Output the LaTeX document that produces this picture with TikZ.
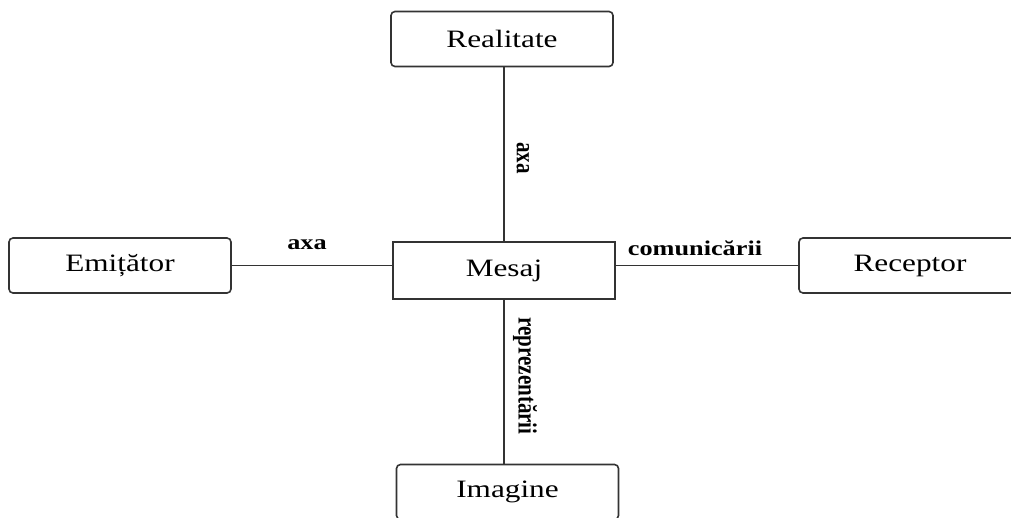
\documentclass[tikz,border=0pt]{standalone}
\usepackage{fontspec}
\setmainfont{Liberation Serif}
\usepackage{graphicx}
% wide lettering used throughout the figure
\newcommand\widetext[1]{\scalebox{1.25}[1]{#1}}
\newcommand\tallrot[1]{\scalebox{1}[1.25]{#1}}
\definecolor{linegray}{HTML}{333333}
\begin{document}
\begin{tikzpicture}[x=1pt,y=-1pt,
  box/.style={draw=linegray, line width=1.6pt, minimum width=222pt, minimum height=55pt,
    inner sep=0pt, font=\fontsize{25}{30}\selectfont},
  roundbox/.style={box, rounded corners=4pt},
  link/.style={draw=linegray, line width=1.6pt},
  axislabel/.style={font=\fontsize{21}{25}\bfseries, inner sep=0pt}]
\useasboundingbox (0,0) rectangle (1011,517);
% the four poles and the message in the middle
\node[roundbox] (real) at (502,39) {\widetext{Realitate}};
\node[roundbox] (emit) at (120,265.5) {\widetext{Emițător}};
\node[box, minimum height=57pt] (mes) at (504,270.5) {\widetext{Mesaj}};
\node[roundbox] (rec) at (910,265.5) {\widetext{Receptor}};
\node[roundbox] (img) at (507.5,492) {\widetext{Imagine}};
% axes
\draw[link] (emit.east) -- (mes.west |- emit.east);
\draw[link] (mes.east |- rec.west) -- (rec.west);
\draw[link] (mes.north) -- (mes.north |- real.south);
\draw[link] (mes.south) -- (mes.south |- img.north);
% axis labels
\node[axislabel] (l1) at (307,245) {\widetext{axa}};
\node[axislabel] (l2) at (695,248) {\widetext{comunicării}};
\node[axislabel, rotate=-90] (l3) at (523,158) {\tallrot{axa}};
\node[axislabel, rotate=-90] (l4) at (525,376) {\tallrot{reprezentării}};
\end{tikzpicture}
\end{document}
